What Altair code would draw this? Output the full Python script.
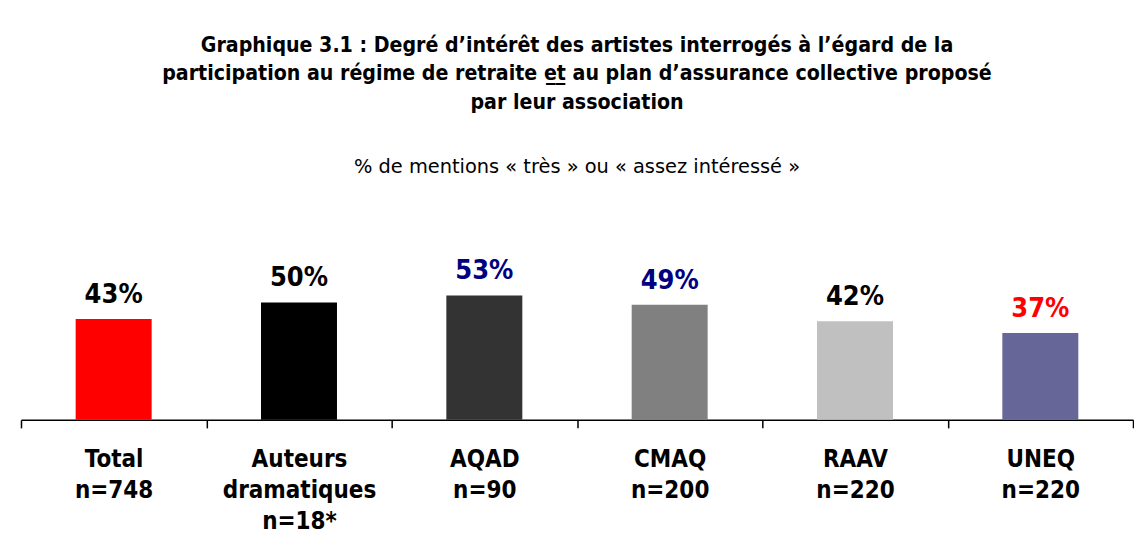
import altair as alt
import pandas as pd

categories = ["Total|n=748", "Auteurs|dramatiques|n=18*", "AQAD|n=90",
              "CMAQ|n=200", "RAAV|n=220", "UNEQ|n=220"]
values = [43, 50, 53, 49, 42, 37]
value_labels = ["43%", "50%", "53%", "49%", "42%", "37%"]
bar_colors = ["#ff0000", "#000000", "#333333", "#808080", "#c0c0c0", "#666699"]
label_colors = ["#000000", "#000000", "#000080", "#000080", "#000000", "#ff0000"]

title_lines = [
    "Graphique 3.1 : Degré d’intérêt des artistes interrogés à l’égard de la",
    "participation au régime de retraite e\u0332t\u0332 au plan d’assurance collective proposé",
    "par leur association",
]
subtitle = "% de mentions « très » ou « assez intéressé »"

df = pd.DataFrame({
    "cat": categories,
    "value": values,
    "label": value_labels,
    "lcolor": label_colors,
})

FONT = "DejaVu Sans Condensed"

x = alt.X(
    "cat:N",
    sort=categories,
    scale=alt.Scale(paddingInner=0, paddingOuter=0),
    axis=alt.Axis(
        title=None,
        labelAngle=0,
        tickBand="extent",
        labelExpr="split(datum.label, '|')",
        labelFont=FONT,
        labelFontSize=24,
        labelFontWeight="bold",
        labelColor="#000000",
        labelLineHeight=31,
        labelPadding=20,
        tickSize=8,
        tickWidth=1.5,
        domainWidth=1.5,
        tickColor="#000000",
        domainColor="#000000",
    ),
)
y = alt.Y("value:Q", scale=alt.Scale(domain=[0, 100]), axis=None)

bars = alt.Chart(df).mark_bar(width=alt.RelativeBandSize(band=0.41)).encode(
    x=x,
    y=y,
    color=alt.Color("cat:N", scale=alt.Scale(domain=categories, range=bar_colors), legend=None),
)

texts = alt.Chart(df).mark_text(
    font=FONT, fontSize=27, fontWeight="bold", baseline="alphabetic", dy=-16
).encode(
    x=x,
    y=y,
    text="label:N",
    color=alt.Color("lcolor:N", scale=None),
)

chart = alt.layer(bars, texts).properties(
    width=1113,
    height=235,
    background="#ffffff",
    padding={"top": 26, "left": 12, "right": 0, "bottom": 0},
    title=alt.Title(
        text=title_lines,
        subtitle=subtitle,
        anchor="middle",
        font=FONT,
        fontSize=21.2,
        fontWeight="bold",
        lineHeight=28.5,
        color="#000000",
        subtitleFont="DejaVu Sans",
        subtitleFontSize=19.4,
        subtitleFontWeight="normal",
        subtitleColor="#000000",
        subtitlePadding=45,
        offset=9,
    ),
).configure_view(stroke=None)

chart.save("out.html", embed_options={"renderer": "svg", "actions": False})
